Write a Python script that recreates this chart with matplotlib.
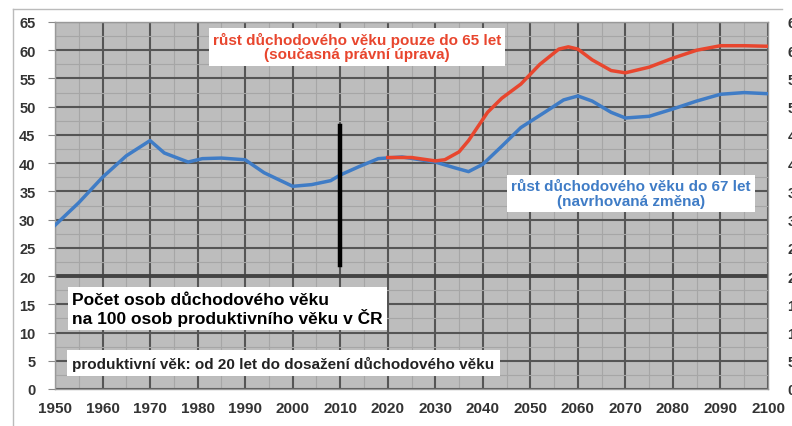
import numpy as np
import matplotlib.pyplot as plt
from matplotlib.lines import Line2D

plt.rcParams['font.family'] = ['Liberation Sans', 'DejaVu Sans']

# stávající stav / růst do 67 let (modrá)
roky_modra = [1950, 1955, 1960, 1965, 1970, 1973, 1978, 1981, 1985, 1990, 1994, 2000,
              2004, 2008, 2010, 2014, 2018, 2023, 2030, 2034, 2037, 2040, 2044, 2048,
              2053, 2057, 2060, 2063, 2067, 2070, 2075, 2080, 2085, 2090, 2095, 2100]
hodnoty_modra = [29.0, 33.0, 37.5, 41.3, 44.0, 41.8, 40.2, 40.8, 40.9, 40.6, 38.3, 35.9,
                 36.2, 36.9, 37.9, 39.4, 40.8, 41.1, 40.2, 39.2, 38.5, 39.8, 43.0, 46.3,
                 49.0, 51.2, 51.9, 51.0, 49.0, 48.0, 48.3, 49.6, 51.0, 52.2, 52.5, 52.3]

# růst jen do 65 let (červená)
roky_cervena = [2020, 2025, 2030, 2032, 2035, 2037, 2039, 2041, 2044, 2048, 2052,
                2056, 2058, 2060, 2063, 2067, 2070, 2075, 2080, 2085, 2090, 2095, 2100]
hodnoty_cervena = [41.0, 41.0, 40.4, 40.6, 42.0, 44.0, 46.5, 49.0, 51.5, 54.0, 57.5,
                   60.2, 60.6, 60.2, 58.3, 56.4, 56.0, 57.0, 58.6, 60.0, 60.8, 60.8, 60.7]

# svislá čára v roce 2010
hranice_rok = 2010
hranice_od, hranice_do = 22.0, 46.5

x_ticks = list(range(1950, 2101, 10))
y_ticks = list(range(0, 66, 5))

fig = plt.figure(figsize=(7.92, 4.27), dpi=100)
ax = fig.add_axes([55 / 792, 37 / 427, 713 / 792, 367 / 427])
ax.set_facecolor('#bdbdbd')

ax.set_xlim(1950, 2100)
ax.set_ylim(0, 65)
ax.set_xticks(x_ticks)
ax.set_yticks(y_ticks)
ax.set_xticks(np.arange(1955, 2100, 10), minor=True)
ax.set_yticks(np.arange(2.5, 65, 5), minor=True)

ax.grid(which='major', color='#555555', linewidth=1.5)
ax.grid(which='minor', color='#a6a6a6', linewidth=0.8)
ax.axhline(20, color='#444444', linewidth=2.8, zorder=1)
ax.set_axisbelow(True)
for s in ax.spines.values():
    s.set_color('#999999')
    s.set_linewidth(1.0)

ax.tick_params(which='major', axis='y', direction='out', length=5, color='#888888',
               labelsize=10.5, right=False, labelright=True)
ax.tick_params(which='major', axis='x', length=0, labelsize=11, pad=9)
ax.tick_params(which='minor', length=0)
for lab in ax.get_xticklabels() + ax.get_yticklabels():
    lab.set_fontweight('bold')
    lab.set_color('#333333')
# odsazení popisků osy y
for t in ax.yaxis.get_major_ticks():
    t.set_pad(9)

ax.plot(roky_modra, hodnoty_modra, color='#3f7cc6', linewidth=2.5, zorder=4)
ax.plot(roky_cervena, hodnoty_cervena, color='#e8462e', linewidth=2.5, zorder=5)
ax.plot([hranice_rok, hranice_rok], [hranice_od, hranice_do], color='black',
        linewidth=3.2, zorder=6)

box = dict(facecolor='white', edgecolor='none', pad=3)
ax.text(2013.5, 60.6, 'růst důchodového věku pouze do 65 let\n(současná právní úprava)',
        color='#e8462e', fontsize=11, fontweight='bold', ha='center', va='center',
        linespacing=1.0, bbox=box, zorder=7)
ax.text(2071.2, 34.6, 'růst důchodového věku do 67 let\n(navrhovaná změna)',
        color='#3f7cc6', fontsize=11, fontweight='bold', ha='center', va='center',
        linespacing=1.05, bbox=box, zorder=7)
ax.text(1953.6, 14.2, 'Počet osob důchodového věku\nna 100 osob produktivního věku v ČR',
        color='black', fontsize=12.5, fontweight='bold', ha='left', va='center',
        linespacing=1.1, bbox=dict(facecolor='white', edgecolor='none', pad=3), zorder=7)
ax.text(1953.6, 4.6, 'produktivní věk: od 20 let do dosažení důchodového věku',
        color='#222222', fontsize=11, fontweight='bold', ha='left', va='center',
        bbox=dict(facecolor='white', edgecolor='none', pad=4), zorder=7)

# rámeček kolem celého grafu
fig.add_artist(Line2D([13 / 792, 13 / 792], [0, 1 - 10 / 427], color='#bbbbbb',
                      linewidth=1.0, transform=fig.transFigure))
fig.add_artist(Line2D([13 / 792, 782 / 792], [1 - 10 / 427, 1 - 10 / 427], color='#bbbbbb',
                      linewidth=1.0, transform=fig.transFigure))

fig.savefig('out.png', dpi=100)
